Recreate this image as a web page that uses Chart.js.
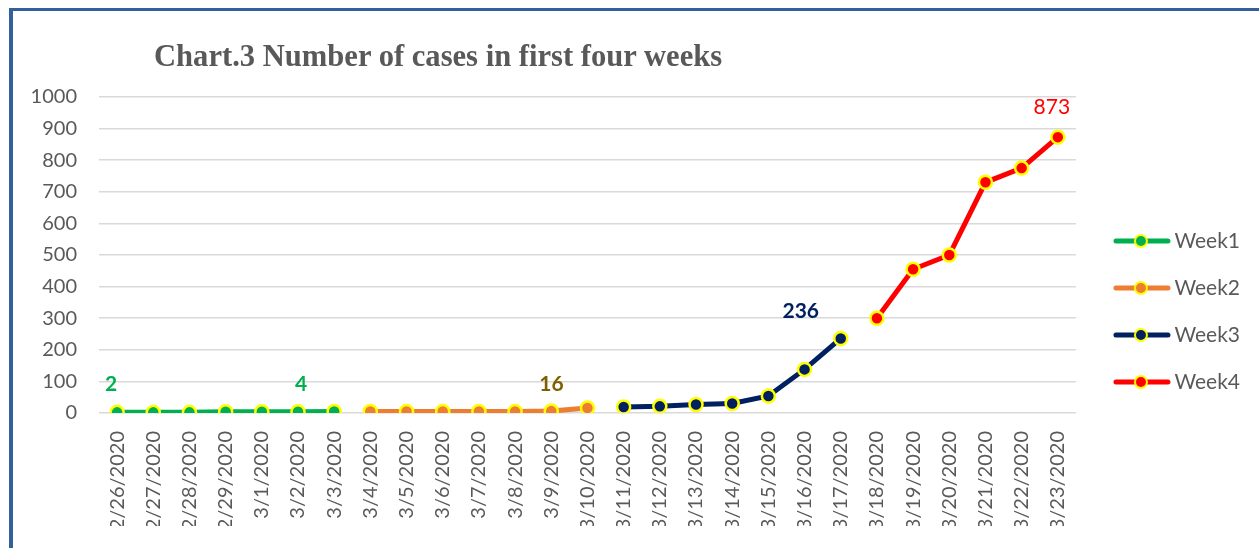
<!DOCTYPE html>
<html>
<head>
<meta charset="utf-8">
<script src="https://cdn.jsdelivr.net/npm/chart.js@4/dist/chart.umd.min.js"></script>
<style>
  html, body { margin: 0; padding: 0; background: #fff; }
  #wrap { position: relative; width: 1259px; height: 548px; overflow: hidden; }
  #frame { position: absolute; left: 9px; top: 8px; width: 1400px; height: 700px;
           border-left: 4px solid #33609c; border-top: 3px solid #33609c; }
  #title { position: absolute; left: 154px; top: 39px; line-height: 30px; white-space: nowrap;
           font: bold 30.6px "Liberation Serif", "Times New Roman", serif; color: #595959; }
  canvas { position: absolute; left: 0; top: 0; }
</style>
</head>
<body>
<div id="wrap">
  <div id="frame"></div>
  <canvas id="chart" width="1259" height="548"></canvas>
  <div id="title">Chart.3 Number of cases in first four weeks</div>
</div>
<script>
const dates = ['2/26/2020', '2/27/2020', '2/28/2020', '2/29/2020', '3/1/2020', '3/2/2020', '3/3/2020',
  '3/4/2020', '3/5/2020', '3/6/2020', '3/7/2020', '3/8/2020', '3/9/2020', '3/10/2020',
  '3/11/2020', '3/12/2020', '3/13/2020', '3/14/2020', '3/15/2020', '3/16/2020', '3/17/2020',
  '3/18/2020', '3/19/2020', '3/20/2020', '3/21/2020', '3/22/2020', '3/23/2020'];
const week1 = [2, 2, 2, 4, 4, 4, 5];
const week2 = [5, 5, 5, 5, 5, 6, 16];
const week3 = [19, 21, 27, 30, 54, 138, 236];
const week4 = [300, 455, 500, 730, 775, 873];
const weekNames = ['Week1', 'Week2', 'Week3', 'Week4'];
const weekStart = [0, 7, 14, 21];
const yTicks = [0, 100, 200, 300, 400, 500, 600, 700, 800, 900, 1000];

const colors = ['#00b050', '#ed7d31', '#002060', '#ff0000'];
const FONT = 'Lato, "Open Sans", sans-serif';
const GREY = '#595959';

// put each week's values at its place on the date axis
const pad = (start, values) => dates.map((d, i) => (i >= start && i < start + values.length ? values[i - start] : null));

// legend marker: line with a dot in the middle
const legendMark = (color) => {
  const c = document.createElement('canvas');
  c.width = 80; c.height = 20;
  const g = c.getContext('2d');
  g.strokeStyle = color; g.lineWidth = 5; g.lineCap = 'round';
  g.beginPath(); g.moveTo(23, 10); g.lineTo(75, 10); g.stroke();
  g.beginPath(); g.arc(48, 10, 6, 0, Math.PI * 2);
  g.fillStyle = color; g.fill();
  g.strokeStyle = '#ffff00'; g.lineWidth = 2; g.stroke();
  return c;
};
const marks = colors.map(legendMark);

// value labels: [week index, point index, text, bold]
const valueLabels = [
  [0, 0, '2', true],
  [0, 5, '4', true],
  [1, 6, '16', true],
  [2, 6, '236', true],
  [3, 5, '873', false]
];
const labelColors = ['#00b050', '#7f6000', '#002060', '#ff0000'];
const labelShift = [[-6, -28], [3, -28], [-36, -24], [-40, -27], [-6, -30]];

const valueLabelPlugin = {
  id: 'valueLabels',
  afterDatasetsDraw(chart) {
    const ctx = chart.ctx;
    const xs = chart.scales.x, ys = chart.scales.y;
    ctx.save();
    ctx.textAlign = 'center';
    ctx.textBaseline = 'middle';
    valueLabels.forEach(([w, i, text, bold], k) => {
      const idx = weekStart[w] + i;
      const v = chart.data.datasets[w].data[idx];
      ctx.font = (bold ? 'bold ' : '') + '21px ' + FONT;
      ctx.fillStyle = labelColors[w];
      ctx.fillText(text, xs.getPixelForValue(idx) + labelShift[k][0], ys.getPixelForValue(v) + labelShift[k][1]);
    });
    ctx.restore();
  }
};

const datasets = [week1, week2, week3, week4].map((vals, w) => ({
  label: weekNames[w],
  data: pad(weekStart[w], vals),
  borderColor: colors[w],
  backgroundColor: colors[w],
  borderWidth: 5,
  pointRadius: 6.5,
  pointHoverRadius: 6.5,
  pointBorderWidth: 2.5,
  pointBorderColor: '#ffff00',
  pointBackgroundColor: colors[w],
  tension: 0,
  spanGaps: false
}));

new Chart(document.getElementById('chart'), {
  type: 'line',
  data: { labels: dates, datasets },
  options: {
    responsive: false,
    animation: false,
    layout: { padding: { top: 97, bottom: 22, left: 0, right: 9 } },
    plugins: {
      tooltip: { enabled: false },
      title: { display: false },
      legend: {
        position: 'right',
        labels: {
          usePointStyle: true,
          pointStyleWidth: 62,
          padding: 26,
          color: GREY,
          font: { family: FONT, size: 21 },
          generateLabels(chart) {
            const items = Chart.defaults.plugins.legend.labels.generateLabels(chart);
            items.forEach((it, i) => { it.pointStyle = marks[i]; });
            return items;
          }
        }
      }
    },
    scales: {
      x: {
        offset: true,
        afterFit(axis) { axis.height = 113; },
        grid: { display: false, drawTicks: false },
        border: { display: false },
        ticks: {
          autoSkip: false,
          maxRotation: 90,
          minRotation: 90,
          padding: 18,
          color: GREY,
          font: { family: FONT, size: 20 }
        }
      },
      y: {
        min: 0,
        max: 1000,
        afterFit(axis) { axis.width = 99; },
        afterBuildTicks(axis) { axis.ticks = yTicks.map(v => ({ value: v })); },
        grid: { color: '#d9d9d9', lineWidth: 1.5, drawTicks: false },
        border: { display: false },
        ticks: {
          padding: 22,
          color: GREY,
          font: { family: FONT, size: 20 },
          callback: (v) => String(v)
        }
      }
    }
  },
  plugins: [valueLabelPlugin]
});
</script>
</body>
</html>
